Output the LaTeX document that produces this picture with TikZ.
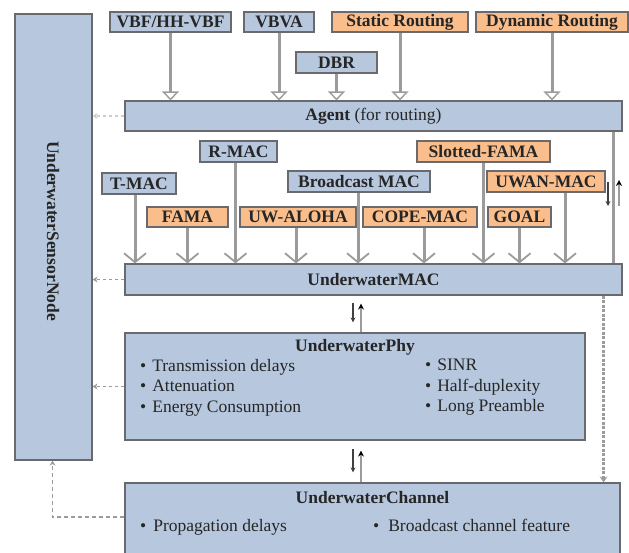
\documentclass[tikz,border=0pt]{standalone}
\usepackage{fontspec}
\setmainfont{Liberation Serif}
\usetikzlibrary{arrows.meta,positioning}
\definecolor{boxblue}{RGB}{182,199,222}
\definecolor{boxorange}{RGB}{250,190,140}
\definecolor{boxline}{RGB}{105,105,110}
\definecolor{linkgray}{RGB}{155,155,155}

\begin{document}
\begin{tikzpicture}[x=1pt, y=-1pt, >=Stealth]
	\tikzstyle{proto}=[rectangle, draw=boxline, line width=1.2pt, fill=boxblue, minimum height=20pt, inner sep=0pt, font=\fontsize{17.5}{20}\selectfont\bfseries, text=black!85]
	\tikzstyle{newproto}=[proto, fill=boxorange]
	\tikzstyle{layer}=[proto, minimum width=497pt, minimum height=30pt]
	\tikzstyle{items}=[anchor=north west, inner sep=0pt, align=left, font=\fontsize{17.5}{20.5}\selectfont, text=black!85]
	\tikzstyle{feed}=[-{Triangle[open, fill=white, length=9pt, width=17pt, line width=1.4pt]}, draw=linkgray, line width=3pt]
	\tikzstyle{macfeed}=[-{Straight Barb[length=9pt, width=22pt, line width=1.8pt]}, draw=linkgray, line width=3pt]
	\tikzstyle{report}=[-{Stealth[length=5pt, width=6pt]}, draw=linkgray, dashed, line width=1.4pt]
	\tikzstyle{down}=[-{Stealth[length=5pt, width=5pt]}, draw=black!75, line width=1.2pt]
	\tikzstyle{up}=[-{Stealth[length=6pt, width=6pt, color=black]}, draw=linkgray, line width=2.5pt]
	
	\useasboundingbox (0,0) rectangle (629,552);
	
	% sensor node
	\node[proto, minimum width=77pt, minimum height=446pt] (sensor) at (53.5,237) {};
	\node[rotate=-90, font=\fontsize{17.5}{20}\selectfont\bfseries, text=black!85] (sensortext) at (53,231) {UnderwaterSensorNode};
	
	% routing protocols
	\node[proto, minimum width=121pt] (vbf) at (170.5,22) {VBF/HH-VBF};
	\node[proto, minimum width=70pt] (vbva) at (279,22) {VBVA};
	\node[newproto, minimum width=136pt] (static) at (400,22) {Static Routing};
	\node[newproto, minimum width=152pt] (dynamic) at (552,22) {Dynamic Routing};
	\node[proto, minimum width=81pt, minimum height=21pt] (dbr) at (336.5,62.5) {DBR};
	
	\node[layer] (agent) at (373.5,116) {Agent \mdseries(for routing)};
	
	% MAC protocols
	\node[proto, minimum width=77pt, minimum height=21pt] (rmac) at (238.5,151.5) {R-MAC};
	\node[newproto, minimum width=133pt, minimum height=21pt] (sfama) at (483.5,151.5) {Slotted-FAMA};
	\node[proto, minimum width=74pt, minimum height=21pt] (tmac) at (139,183.5) {T-MAC};
	\node[proto, minimum width=142pt, minimum height=21pt] (bmac) at (359,181.5) {Broadcast MAC};
	\node[newproto, minimum width=118pt, minimum height=21pt] (uwan) at (546,181.5) {UWAN-MAC};
	\node[newproto, minimum width=81pt] (fama) at (187.5,217) {FAMA};
	\node[newproto, minimum width=116pt] (aloha) at (298,217) {UW-ALOHA};
	\node[newproto, minimum width=114pt] (cope) at (420,217) {COPE-MAC};
	\node[newproto, minimum width=63pt] (goal) at (519.5,217) {GOAL};
	
	\node[layer, minimum height=31pt] (mac) at (373.5,279.5) {UnderwaterMAC};
	
	% physical layer
	\node[proto, minimum width=460pt, minimum height=107pt] (phy) at (355,386.5) {};
	\node[font=\fontsize{17.5}{20}\selectfont\bfseries, text=black!85, below=3pt of phy.north] (phytitle) {UnderwaterPhy};
	\node[items] (phyleft) at (140,359) {\textbullet\hspace{6pt}Transmission delays\\\textbullet\hspace{6pt}Attenuation\\\textbullet\hspace{6pt}Energy Consumption};
	\node[items] (phyright) at (425,359) {\textbullet\hspace{6pt}SINR\\\textbullet\hspace{6pt}Half-duplexity\\\textbullet\hspace{6pt}Long Preamble};
	
	% channel
	\node[proto, minimum width=495pt, minimum height=76pt] (chan) at (372.5,521) {};
	\node[font=\fontsize{17.5}{20}\selectfont\bfseries, text=black!85, below=5pt of chan.north] (chantitle) {UnderwaterChannel};
	\node[items] (chanleft) at (140,519) {\textbullet\hspace{7pt}Propagation delays};
	\node[items] (chanright) at (373,519) {\textbullet\hspace{9pt}Broadcast channel feature};
	
	\coordinate (amdown1) at (608,182);
	\coordinate (amdown2) at (608,206);
	\coordinate (amup1) at (619,206);
	\coordinate (amup2) at (619,180);
	
	\path (vbf.south) edge [feed] (vbf.south |- agent.north)
	(vbva.south) edge [feed] (vbva.south |- agent.north)
	(dbr.south) edge [feed] (dbr.south |- agent.north)
	(static.south) edge [feed] (static.south |- agent.north)
	(dynamic.south) edge [feed] (dynamic.south |- agent.north)
	
	([xshift=-4pt]tmac.south) edge [macfeed] ([xshift=-4pt]tmac.south |- mac.north)
	(fama.south) edge [macfeed] (fama.south |- mac.north)
	([xshift=-3pt]rmac.south) edge [macfeed] ([xshift=-3pt]rmac.south |- mac.north)
	([xshift=-2pt]aloha.south) edge [macfeed] ([xshift=-2pt]aloha.south |- mac.north)
	([xshift=-1pt]bmac.south) edge [macfeed] ([xshift=-1pt]bmac.south |- mac.north)
	([xshift=4pt]cope.south) edge [macfeed] ([xshift=4pt]cope.south |- mac.north)
	(sfama.south) edge [macfeed] (sfama.south |- mac.north)
	(goal.south) edge [macfeed] (goal.south |- mac.north)
	([xshift=19pt]uwan.south) edge [macfeed] ([xshift=19pt]uwan.south |- mac.north);
	
	% agent <-> mac
	\draw[linkgray, line width=3pt] ([xshift=-9pt]agent.south east) -- ([xshift=-9pt]mac.north east);
	\draw[down] (amdown1) -- (amdown2);
	\draw[up] (amup1) -- (amup2);
	
	% mac <-> phy <-> channel
	\draw[down] ([xshift=-2pt, yshift=-7pt]mac.south -| phy.north) -- ([xshift=-2pt, yshift=10pt]phy.north);
	\draw[up] ([xshift=6pt]phy.north) -- ([xshift=6pt, yshift=-8pt]mac.south -| phy.north);
	\draw[down] ([xshift=-2pt, yshift=-8pt]phy.south) -- ([xshift=-2pt, yshift=10pt]phy.south |- chan.north);
	\draw[up] ([xshift=6pt]phy.south |- chan.north) -- ([xshift=6pt, yshift=-10pt]phy.south);
	
	\draw[-{Stealth[length=6pt, width=8pt]}, draw=linkgray, line width=2.6pt, dash pattern=on 3pt off 1.5pt] ([xshift=-19pt]mac.south east) -- ([xshift=-19pt]mac.south east |- chan.north);
	
	% reports to the sensor node
	\draw[report, draw=linkgray!50] (agent.west) -- (agent.west -| sensor.east);
	\draw[report] (mac.west) -- (mac.west -| sensor.east);
	\draw[report] (phy.west) -- (phy.west -| sensor.east);
	\draw[report, dash pattern=on 4pt off 3pt] ([yshift=4pt]chan.west) -| ([xshift=-1pt]sensor.south);
	
\end{tikzpicture}
\end{document}
